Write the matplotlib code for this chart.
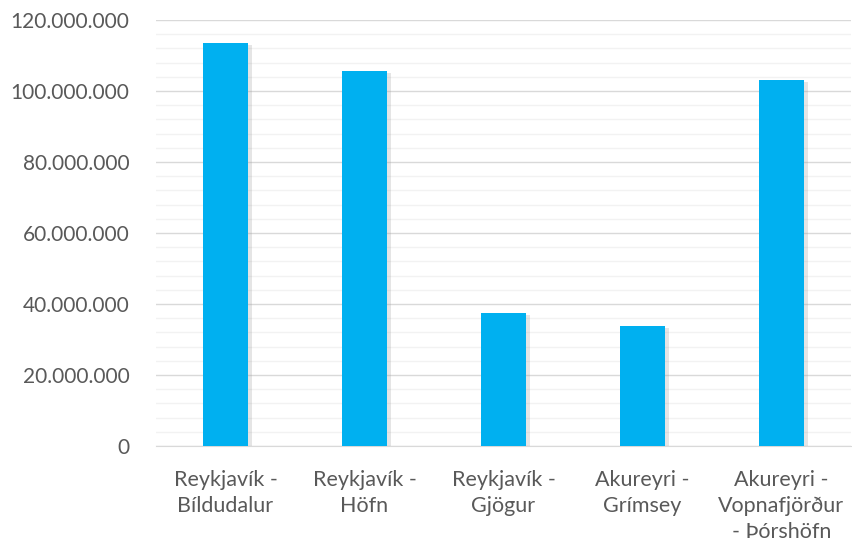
import matplotlib.pyplot as plt
import matplotlib.patheffects as pe
from matplotlib.ticker import MultipleLocator, FuncFormatter
import numpy as np

routes = ["Reykjavík -\nBíldudalur", "Reykjavík -\nHöfn", "Reykjavík -\nGjögur",
          "Akureyri -\nGrímsey", "Akureyri -\nVopnafjörður\n- Þórshöfn"]
amounts = [113500000, 105600000, 37500000, 33800000, 103100000]

plt.rcParams['font.family'] = ['Lato', 'DejaVu Sans']

fig = plt.figure(figsize=(8.52, 5.44), dpi=100)
ax = fig.add_axes([156/852, 1 - 446/544, 695/852, 426/544])

x = np.arange(len(routes))
bars = ax.bar(x, amounts, width=0.33, color="#00B0F0", zorder=3)
for b in bars:
    b.set_path_effects([pe.SimplePatchShadow(offset=(2.5, -1.5), shadow_rgbFace="#9a9a9a", alpha=0.25),
                        pe.Normal()])

ax.set_xlim(-0.5, len(routes) - 0.5)
ax.set_ylim(0, 120000000)
ax.yaxis.set_major_locator(MultipleLocator(20000000))
ax.yaxis.set_minor_locator(MultipleLocator(4000000))
ax.yaxis.set_major_formatter(FuncFormatter(lambda v, p: f"{int(v):,}".replace(",", ".")))
ax.grid(which="major", axis="y", color="#D9D9D9", linewidth=1, zorder=0)
ax.grid(which="minor", axis="y", color="#F2F2F2", linewidth=1, zorder=0)

for s in ["top", "right", "left"]:
    ax.spines[s].set_visible(False)
ax.spines["bottom"].set_color("#D9D9D9")
ax.tick_params(axis="both", which="both", length=0, colors="#595959")
ax.tick_params(axis="y", labelsize=15, pad=19)
ax.tick_params(axis="x", labelsize=15.5, pad=17)
ax.set_xticks(x)
ax.set_xticklabels(routes, linespacing=1.4)

fig.savefig("out.png", dpi=100)
